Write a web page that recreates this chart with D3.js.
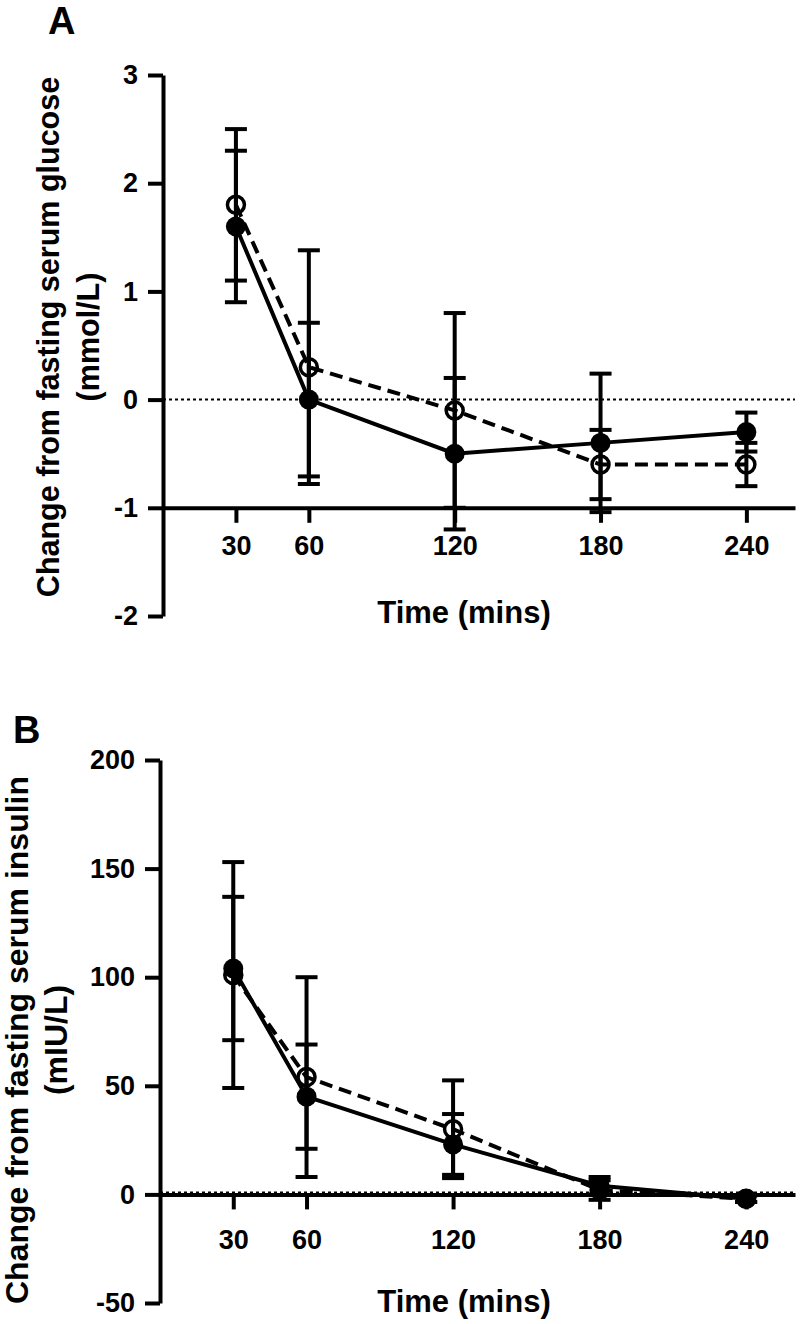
<!DOCTYPE html>
<html>
<head>
<meta charset="utf-8">
<script src="https://cdn.jsdelivr.net/npm/d3@7"></script>
<style>
  html, body { margin: 0; padding: 0; background: #fff; }
  svg { display: block; }
  text { font-family: "Liberation Sans", Arial, Helvetica, sans-serif; font-weight: bold; fill: #000; }
</style>
</head>
<body>
<svg id="chart" width="800" height="1324"></svg>
<script>
// ---------- data ----------
const times = [30, 60, 120, 180, 240];
const xTickValues = [30, 60, 120, 180, 240];

const glucoseTicks = [-2, -1, 0, 1, 2, 3];
const glucoseFilled = [1.6, 0, -0.5, -0.4, -0.3];
const glucoseFilledErr = [0.7, 0.71, 0.7, 0.64, 0.18];
const glucoseOpen = [1.8, 0.3, -0.1, -0.6, -0.6];
const glucoseOpenErr = [0.7, 1.08, 0.9, 0.32, 0.2];

const insulinTicks = [-50, 0, 50, 100, 150, 200];
const insulinFilled = [104, 45, 23, 4, -2];
const insulinFilledErr = [33, 24, 14, 4, 1.5];
const insulinOpen = [101, 54, 30, 2, -2];
const insulinOpenErr = [52, 46, 22.5, 4.5, 1.5];

const svg = d3.select("#chart");
const STROKE = 4;

function panel(cfg) {
  const g = svg.append("g");
  const x = d3.scaleLinear().domain([0, 260]).range([cfg.x0, cfg.x1]);
  const y = d3.scaleLinear().domain(cfg.yDomain).range(cfg.yRange);

  // dotted zero line
  g.append("line")
    .attr("x1", x(0)).attr("x2", x(260))
    .attr("y1", y(0) + cfg.dotOffset).attr("y2", y(0) + cfg.dotOffset)
    .attr("stroke", "#000").attr("stroke-width", 2)
    .attr("stroke-dasharray", "3,3");

  const fmt = d => String(d);
  // y axis
  const yAxis = d3.axisLeft(y).tickValues(cfg.yTicks).tickFormat(fmt)
    .tickSize(15).tickSizeOuter(0).tickPadding(10);
  const ya = g.append("g").attr("transform", `translate(${x(0)},0)`).call(yAxis);
  // x axis
  const xAxis = d3.axisBottom(x).tickValues(xTickValues).tickFormat(fmt)
    .tickSize(15).tickSizeOuter(0).tickPadding(cfg.xPad);
  const xa = g.append("g").attr("transform", `translate(0,${y(cfg.xAxisAt)})`).call(xAxis);
  [ya, xa].forEach(a => {
    a.selectAll("path.domain").attr("stroke", "#000").attr("stroke-width", STROKE);
    a.selectAll(".tick line").attr("stroke", "#000").attr("stroke-width", STROKE);
    a.selectAll(".tick text").style("font-size", "27px").style("font-weight", "bold")
      .style("font-family", '"Liberation Sans", Arial, sans-serif').attr("fill", "#000");
  });

  function series(vals, errs, dashed, filled) {
    const pts = times.map((t, i) => ({ t, v: vals[i], e: errs[i] }));
    const eb = g.append("g");
    pts.forEach(p => {
      eb.append("line").attr("x1", x(p.t)).attr("x2", x(p.t))
        .attr("y1", y(p.v - p.e)).attr("y2", y(p.v + p.e))
        .attr("stroke", "#000").attr("stroke-width", STROKE);
      [p.v - p.e, p.v + p.e].forEach(c => {
        eb.append("line").attr("x1", x(p.t) - 11).attr("x2", x(p.t) + 11)
          .attr("y1", y(c)).attr("y2", y(c))
          .attr("stroke", "#000").attr("stroke-width", STROKE);
      });
    });
    g.append("path").datum(pts)
      .attr("d", d3.line().x(d => x(d.t)).y(d => y(d.v)))
      .attr("fill", "none").attr("stroke", "#000").attr("stroke-width", STROKE)
      .attr("stroke-dasharray", dashed ? "13,7" : null);
    g.selectAll(null).data(pts).enter().append("circle")
      .attr("cx", d => x(d.t)).attr("cy", d => y(d.v))
      .attr("r", filled ? 10 : 8.5)
      .attr("fill", filled ? "#000" : "none")
      .attr("stroke", "#000").attr("stroke-width", filled ? 0 : 3.5);
  }
  series(cfg.open, cfg.openErr, true, false);
  series(cfg.filled, cfg.filledErr, false, true);

  // titles
  g.append("text").attr("x", cfg.letter[0]).attr("y", cfg.letter[1])
    .style("font-size", cfg.letter[2] + "px").text(cfg.letterText);
  g.append("text").attr("x", 464).attr("y", cfg.xTitleY).attr("text-anchor", "middle")
    .style("font-size", "31px").text("Time (mins)");
  cfg.yTitle.forEach((t, i) => {
    const bx = cfg.yTitleX[i], cy = cfg.yTitleCY;
    g.append("text").attr("x", bx).attr("y", cy).attr("text-anchor", "middle")
      .attr("transform", `rotate(-90,${bx},${cy})`)
      .style("font-size", cfg.yTitleSize + "px").text(t);
  });
}

panel({
  x0: 163, x1: 795,
  yDomain: [-2, 3], yRange: [616, 75], yTicks: glucoseTicks, xAxisAt: -1,
  xPad: 13, dotOffset: 0,
  filled: glucoseFilled, filledErr: glucoseFilledErr,
  open: glucoseOpen, openErr: glucoseOpenErr,
  letter: [48, 34, 38], letterText: "A",
  xTitleY: 623,
  yTitle: ["Change from fasting serum glucose", "(mmol/L)"],
  yTitleX: [59, 99], yTitleCY: 337, yTitleSize: 30.5
});

panel({
  x0: 160, x1: 795,
  yDomain: [-50, 200], yRange: [1303, 760], yTicks: insulinTicks, xAxisAt: 0,
  xPad: 20, dotOffset: -2,
  filled: insulinFilled, filledErr: insulinFilledErr,
  open: insulinOpen, openErr: insulinOpenErr,
  letter: [13, 743, 38], letterText: "B",
  xTitleY: 1312,
  yTitle: ["Change from fasting serum insulin", "(mIU/L)"],
  yTitleX: [28, 67], yTitleCY: 1040, yTitleSize: 32
});
</script>
</body>
</html>
